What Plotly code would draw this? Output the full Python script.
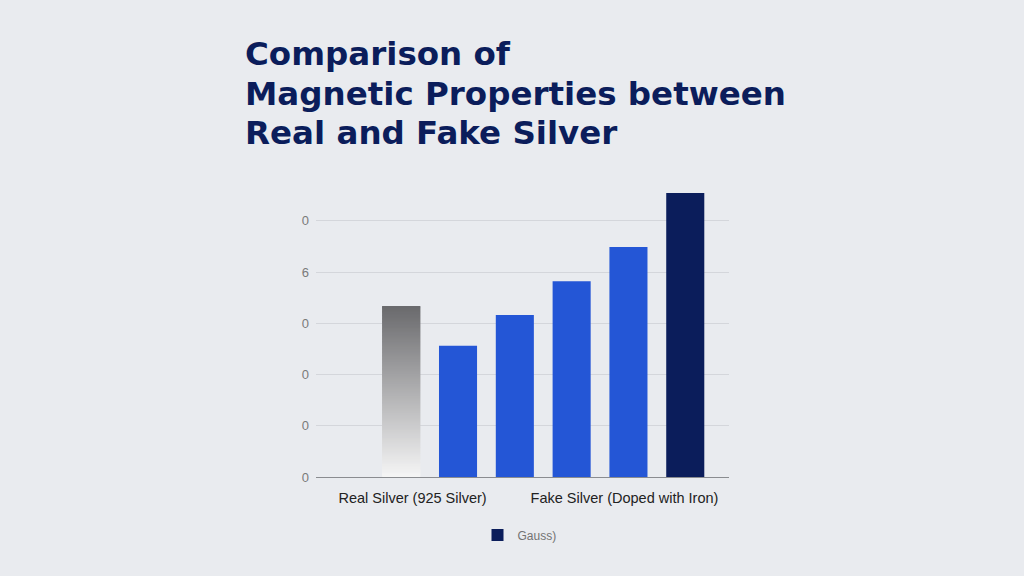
import plotly.graph_objects as go

# data
positions = [1, 2, 3, 4, 5, 6]
values = [33.3, 25.6, 31.6, 38.2, 44.9, 55.4]
real_value = values[0]
fake_values = values[1:5]
gauss_value = values[5]

tick_vals = [0, 10, 20, 30, 40, 50]
tick_text = ["0", "0", "0", "0", "6", "0"]
cat_vals = [1.2, 4.93]
cat_text = ["Real Silver (925 Silver)", "Fake Silver (Doped with Iron)"]
title_lines = ["Comparison of", "Magnetic Properties between", "Real and Fake Silver"]

BG = "#e9ebef"
NAVY = "#0b1d5b"
BLUE = "#2456d6"

W, H = 1024, 576
L, R, T, B = 316, 295, 190, 99

fig = go.Figure()

# gray gradient bar built from thin stacked slices
n = 120
step = real_value / n
dark = (0x6a, 0x6a, 0x6d)
light = (0xf5, 0xf5, 0xf5)
cols = []
for i in range(n):
    t = i / (n - 1)
    c = [round(light[k] + (dark[k] - light[k]) * t) for k in range(3)]
    cols.append("rgb(%d,%d,%d)" % tuple(c))
heights = [step * 2] * (n - 1) + [step]
fig.add_trace(go.Bar(
    x=[positions[0]] * n,
    y=heights,
    base=[i * step for i in range(n)],
    width=0.67,
    marker=dict(color=cols, line=dict(width=0)),
    showlegend=False,
))

fig.add_trace(go.Bar(
    x=positions[1:5],
    y=fake_values,
    width=0.67,
    marker=dict(color=BLUE, line=dict(width=0)),
    showlegend=False,
))

fig.add_trace(go.Bar(
    x=[positions[5]],
    y=[gauss_value],
    width=0.67,
    marker=dict(color=NAVY, line=dict(width=0)),
    name="Gauss)",
))

# title, one annotation per line to keep the tight line spacing
for line, py in zip(title_lines, [53.5, 94.5, 133]):
    fig.add_annotation(
        text=line, showarrow=False,
        xref="paper", x=(243 - L) / (W - L - R), xanchor="left",
        yref="paper", y=(H - B - py) / (H - T - B), yanchor="middle",
        font=dict(size=32.5, color=NAVY, family="DejaVu Sans, sans-serif", weight="bold"),
    )

fig.update_layout(
    width=W, height=H,
    paper_bgcolor=BG, plot_bgcolor=BG,
    barmode="overlay",
    margin=dict(l=L, r=R, t=T, b=B),
    font=dict(family="Liberation Sans, Arial, sans-serif"),
    xaxis=dict(
        range=[-0.5, 6.77],
        tickvals=cat_vals, ticktext=cat_text,
        tickfont=dict(size=14.5, color="#222222"),
        showgrid=False, zeroline=False,
        showline=True, linecolor="#8a8c90", linewidth=1,
        ticks="", ticklabelstandoff=8,
    ),
    yaxis=dict(
        range=[0, 56],
        tickvals=tick_vals, ticktext=tick_text,
        tickfont=dict(size=13, color="#7a7a7a"),
        gridcolor="#d4d6db", gridwidth=1,
        zeroline=False, showline=False,
        ticks="", ticklabelstandoff=6,
    ),
    legend=dict(
        orientation="h",
        xref="paper", x=0.5 - 3 / 413, xanchor="center",
        yref="container", y=1 - 535 / 576, yanchor="middle",
        font=dict(size=12, color="#737373"),
        bgcolor="rgba(0,0,0,0)",
    ),
)

fig.write_html("out.html", config={"displayModeBar": False},
               post_script="document.body.style.margin='0';")
